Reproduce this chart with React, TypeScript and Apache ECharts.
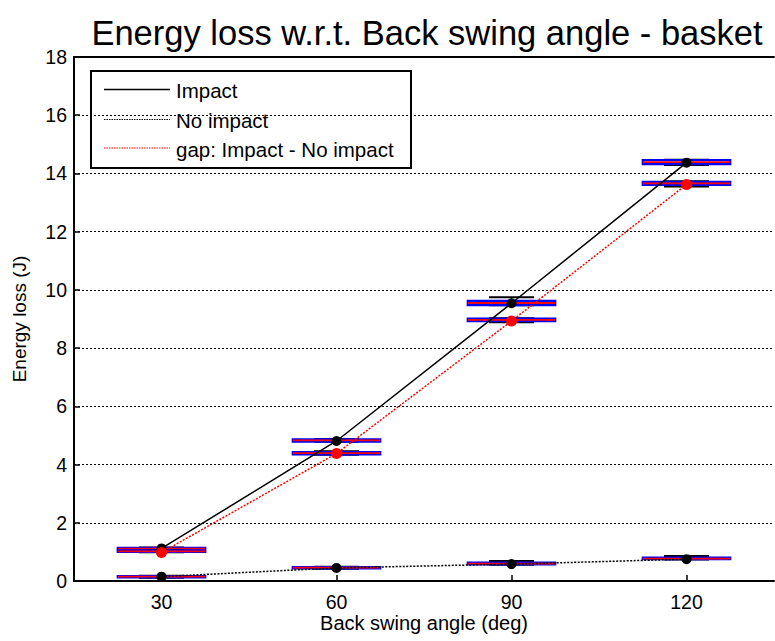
import React, { useEffect, useRef } from "react";
import * as echarts from "echarts";

// Back swing angles (deg)
const angles = [30, 60, 90, 120];

// Mean energy loss (J) per angle
const impactMean = [1.12, 4.81, 9.54, 14.37];
const noImpactMean = [0.15, 0.45, 0.58, 0.75];
const gapMean = [0.98, 4.38, 8.93, 13.62];

// Box statistics per angle: [lower whisker, q1, median, q3, upper whisker]
const impactBoxes = [
  [1.08, 1.09, 1.11, 1.14, 1.15],
  [4.78, 4.79, 4.83, 4.87, 4.88],
  [9.47, 9.48, 9.55, 9.62, 9.75],
  [14.29, 14.32, 14.39, 14.46, 14.47],
];
const noImpactBoxes = [
  [0.11, 0.12, 0.15, 0.17, 0.18],
  [0.42, 0.43, 0.46, 0.48, 0.49],
  [0.56, 0.57, 0.6, 0.63, 0.69],
  [0.74, 0.75, 0.77, 0.8, 0.86],
];
const gapBoxes = [
  [0.99, 1.0, 1.02, 1.04, 1.05],
  [4.34, 4.35, 4.39, 4.43, 4.46],
  [8.89, 8.93, 8.97, 9.01, 9.03],
  [13.55, 13.61, 13.66, 13.71, 13.73],
];

const yTicks = [0, 2, 4, 6, 8, 10, 12, 14, 16, 18];

const FONT = "'Liberation Sans', Arial, sans-serif";
const X_MIN = 15;
const X_MAX = 135;
const BOX_HALF = 7.5;
const CAP_HALF = 3.86;

export default function App() {
  const ref = useRef<HTMLDivElement>(null);

  useEffect(() => {
    document.body.style.margin = "0";
    if (!ref.current) return;
    const chart = echarts.init(ref.current, undefined, { renderer: "svg" });

    const boxRows: number[][] = [];
    [impactBoxes, noImpactBoxes, gapBoxes].forEach((group) => {
      group.forEach((b, i) => boxRows.push([angles[i], ...b]));
    });

    const renderBox = (params: any, api: any) => {
      const x = api.value(0);
      const lo = api.value(1);
      const q1 = api.value(2);
      const med = api.value(3);
      const q3 = api.value(4);
      const hi = api.value(5);
      const c = (xx: number, yy: number) => api.coord([xx, yy]);
      const tl = c(x - BOX_HALF, q3);
      const br = c(x + BOX_HALF, q1);
      const seg = (a: number[], b: number[], stroke: string, w: number, dash?: number[]) => ({
        type: "line",
        shape: { x1: a[0], y1: a[1], x2: b[0], y2: b[1] },
        style: { stroke, lineWidth: w, lineDash: dash },
      });
      return {
        type: "group",
        children: [
          seg(c(x, q3), c(x, hi), "#000", 1, [3, 2]),
          seg(c(x, q1), c(x, lo), "#000", 1, [3, 2]),
          seg(c(x - CAP_HALF, hi), c(x + CAP_HALF, hi), "#000", 2),
          seg(c(x - CAP_HALF, lo), c(x + CAP_HALF, lo), "#000", 2),
          {
            type: "rect",
            shape: { x: tl[0], y: tl[1], width: br[0] - tl[0], height: br[1] - tl[1] },
            style: { fill: "none", stroke: "#0000ff", lineWidth: 2.2 },
          },
          seg(c(x - BOX_HALF, med), c(x + BOX_HALF, med), "#ff0000", 1.8),
        ],
      };
    };

    const lineData = (vals: number[]) => angles.map((a, i) => [a, vals[i]]);

    chart.setOption({
      animation: false,
      backgroundColor: "#ffffff",
      title: {
        text: "Energy loss w.r.t. Back swing angle - basket",
        left: 422,
        textAlign: "center",
        top: 10,
        textStyle: { fontFamily: FONT, fontSize: 34.5, fontWeight: "normal", color: "#000" },
      },
      grid: { left: 74, top: 57, width: 700, height: 524, outerBoundsMode: "none", containLabel: false },
      xAxis: [
        {
          type: "value",
          min: X_MIN,
          max: X_MAX,
          name: "Back swing angle (deg)",
          nameLocation: "middle",
          nameGap: 31.5,
          nameMoveOverlap: false,
          nameTextStyle: { fontFamily: FONT, fontSize: 20, color: "#000" },
          axisLine: { show: true, onZero: false, lineStyle: { color: "#000", width: 2 } },
          axisTick: { show: true, inside: true, length: 6, customValues: angles, lineStyle: { color: "#000", width: 1.5 } },
          axisLabel: { customValues: angles, margin: 11, fontFamily: FONT, fontSize: 19.5, color: "#000" },
          splitLine: { show: false },
        },
        {
          type: "value",
          position: "top",
          min: X_MIN,
          max: X_MAX,
          axisLine: { show: true, onZero: false, lineStyle: { color: "#000", width: 2 } },
          axisTick: { show: false },
          axisLabel: { show: false },
          splitLine: { show: false },
        },
      ],
      yAxis: {
        type: "value",
        min: yTicks[0],
        max: yTicks[yTicks.length - 1],
        interval: 2,
        name: "Energy loss (J)",
        nameLocation: "middle",
        nameGap: 45,
        nameMoveOverlap: false,
        nameTextStyle: { fontFamily: FONT, fontSize: 19, color: "#000" },
        axisLine: { show: true, lineStyle: { color: "#000", width: 2 } },
        axisTick: { show: true, inside: true, length: 6, lineStyle: { color: "#000", width: 1.5 } },
        axisLabel: { margin: 7, fontFamily: FONT, fontSize: 19.5, color: "#000" },
        splitLine: { show: true, lineStyle: { color: "#000", width: 1.2, type: [2, 2] } },
      },
      series: [
        {
          type: "custom",
          name: "boxes",
          renderItem: renderBox,
          data: boxRows,
          encode: { x: 0, y: [1, 2, 3, 4, 5] },
          z: 2,
          silent: true,
        },
        {
          type: "line",
          name: "Impact",
          data: lineData(impactMean),
          lineStyle: { color: "#000", width: 1.5, type: "solid" },
          itemStyle: { color: "#000" },
          symbol: "circle",
          symbolSize: 10,
          z: 4,
        },
        {
          type: "line",
          name: "No impact",
          data: lineData(noImpactMean),
          lineStyle: { color: "#000", width: 1.5, type: [2, 1.5] },
          itemStyle: { color: "#000" },
          symbol: "circle",
          symbolSize: 10,
          z: 4,
        },
        {
          type: "line",
          name: "gap: Impact - No impact",
          data: lineData(gapMean),
          lineStyle: { color: "#ff0000", width: 1.5, type: [2, 1.5] },
          itemStyle: { color: "#ff0000" },
          symbol: "circle",
          symbolSize: 11,
          z: 4,
        },
      ],
      graphic: [
        {
          type: "group",
          left: 90,
          top: 70,
          z: 10,
          children: [
            {
              type: "rect",
              shape: { x: 0, y: 0, width: 320, height: 97 },
              style: { fill: "#fff", stroke: "#000", lineWidth: 2 },
            },
            { type: "line", shape: { x1: 13, y1: 18.5, x2: 79, y2: 18.5 }, style: { stroke: "#000", lineWidth: 1.5 } },
            { type: "line", shape: { x1: 13, y1: 48.5, x2: 79, y2: 48.5 }, style: { stroke: "#000", lineWidth: 1.2, lineDash: [1.5, 1] } },
            { type: "line", shape: { x1: 13, y1: 77, x2: 79, y2: 77 }, style: { stroke: "#ff0000", lineWidth: 1.2, lineDash: [1.5, 1] } },
            { type: "text", x: 85, y: 19, style: { text: "Impact", font: `20.5px ${FONT}`, fill: "#000", verticalAlign: "middle" } },
            { type: "text", x: 85, y: 49, style: { text: "No impact", font: `20.5px ${FONT}`, fill: "#000", verticalAlign: "middle" } },
            { type: "text", x: 85, y: 78, style: { text: "gap: Impact - No impact", font: `20.5px ${FONT}`, fill: "#000", verticalAlign: "middle" } },
          ],
        },
      ],
    });

    return () => chart.dispose();
  }, []);

  return <div ref={ref} style={{ width: 775, height: 641 }} />;
}
